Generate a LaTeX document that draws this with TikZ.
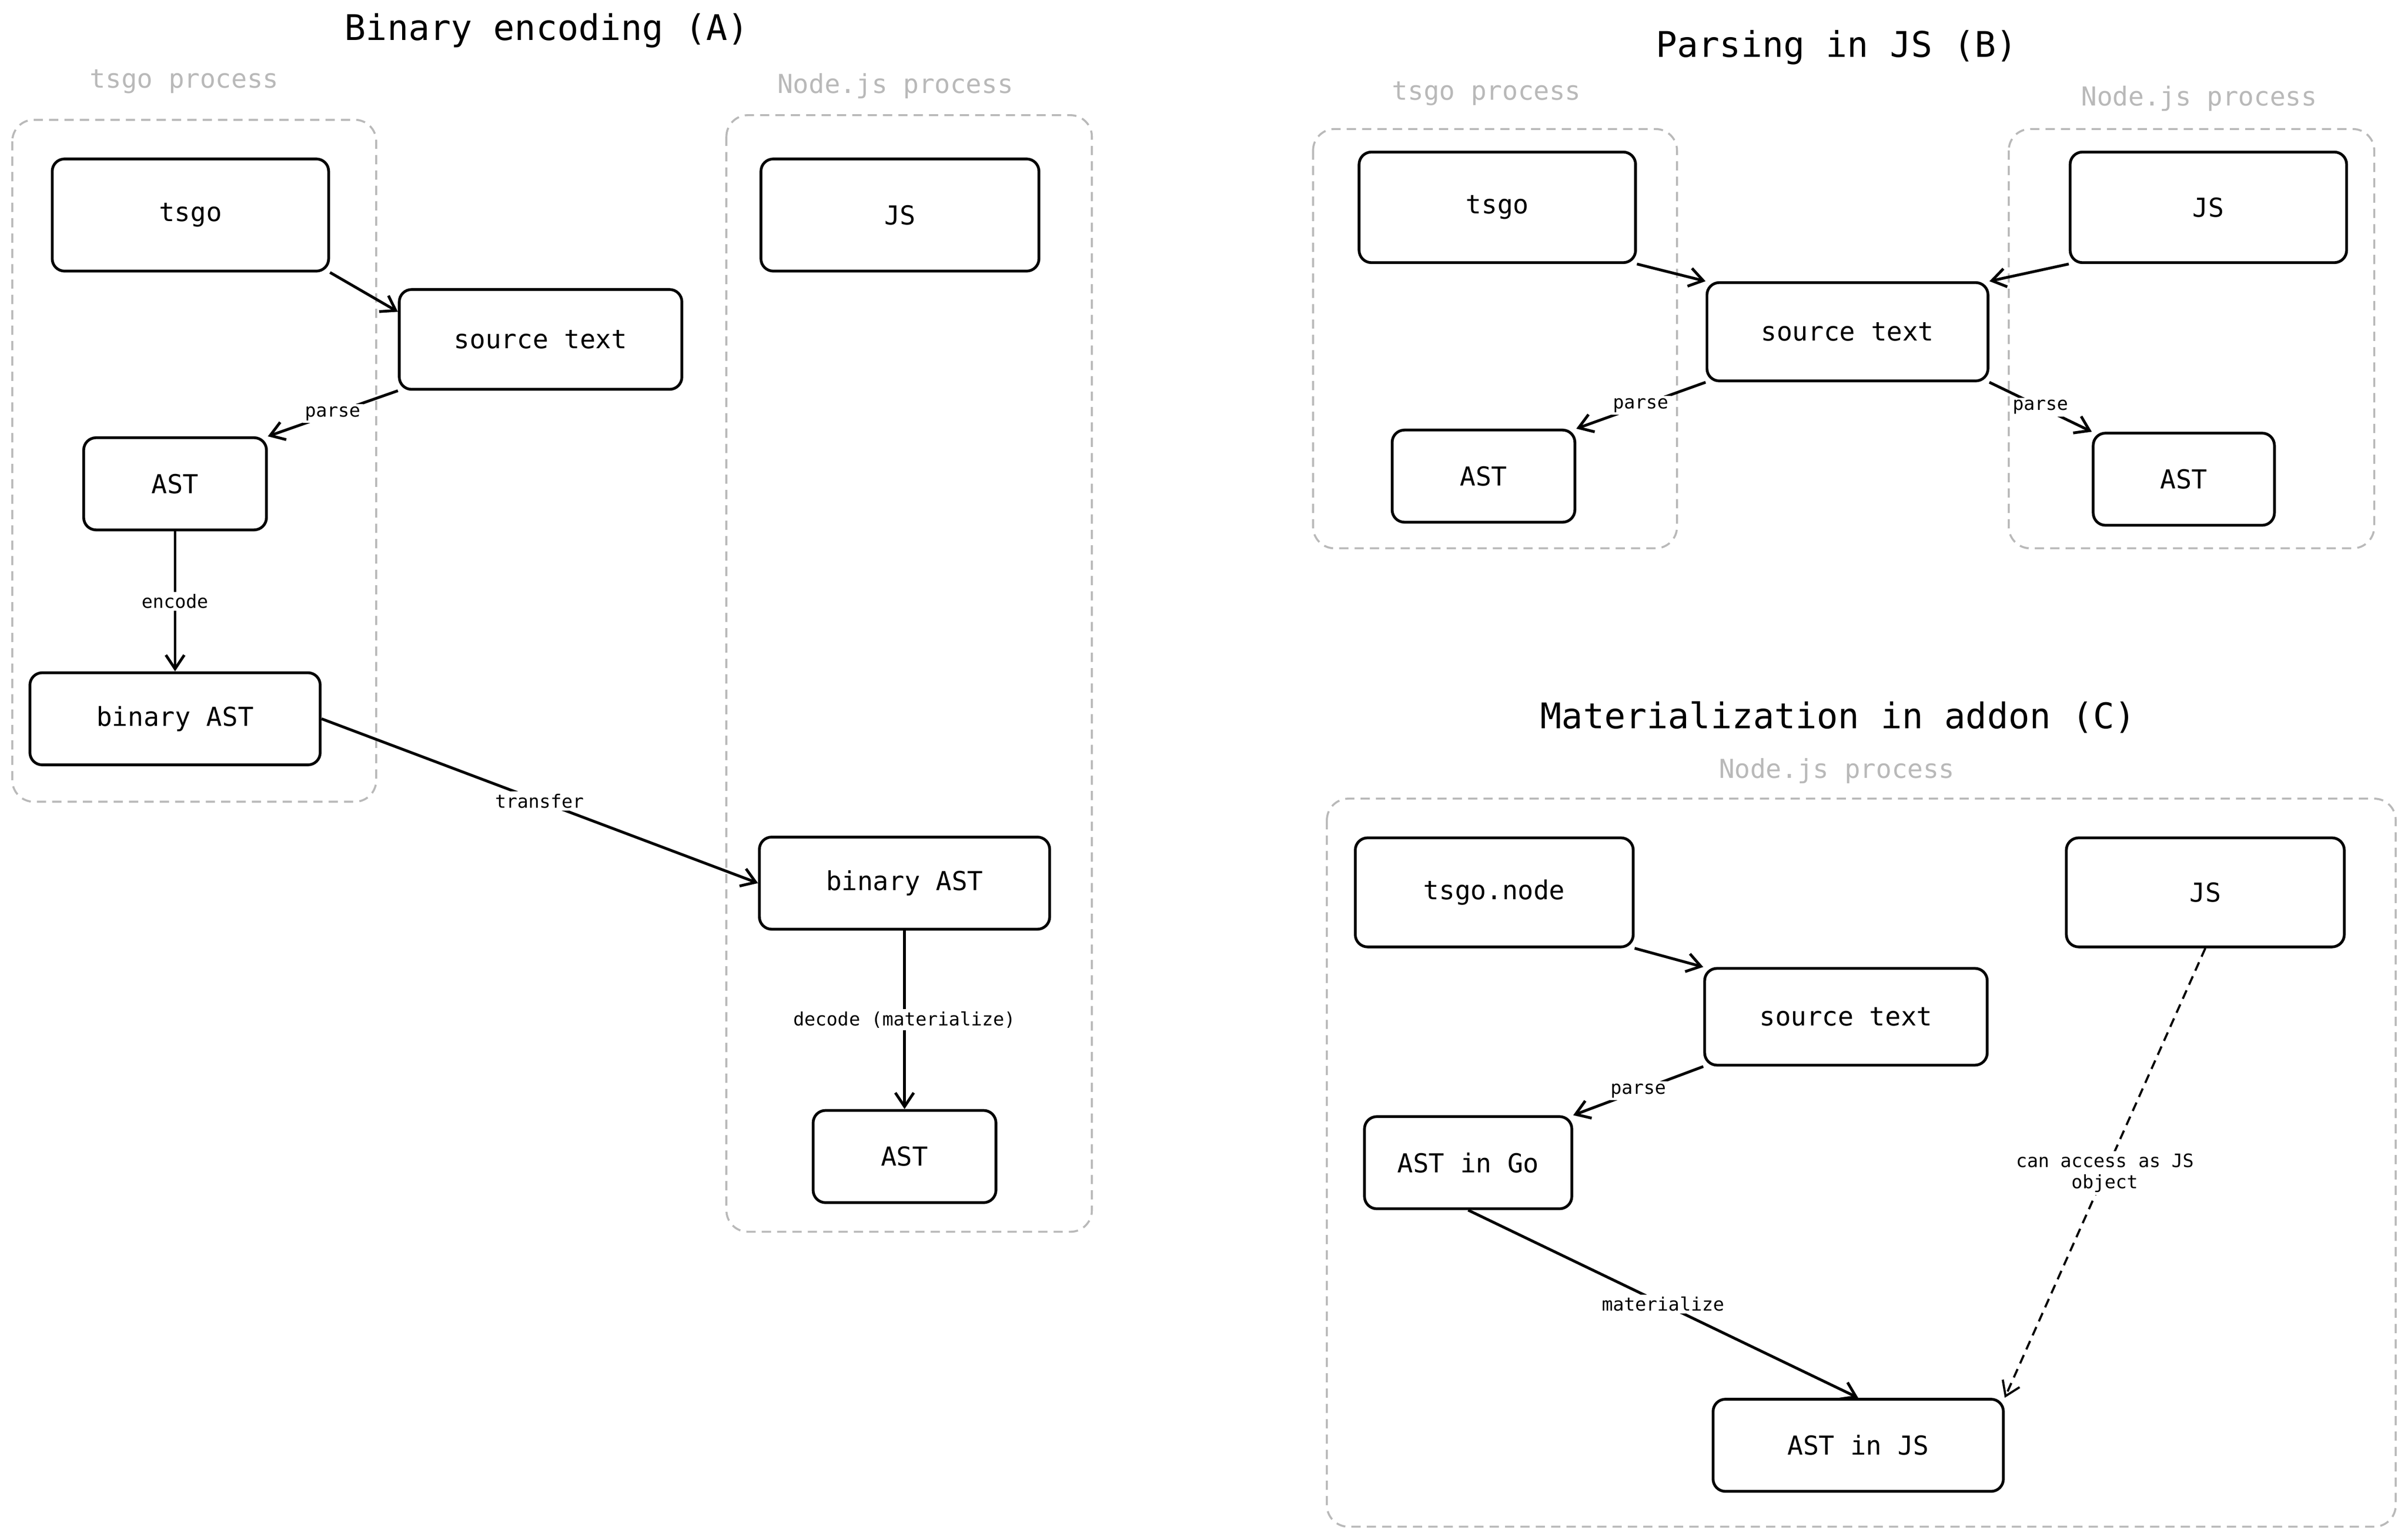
\documentclass[tikz,border=0pt]{standalone}
\usepackage{fontspec}
\setmonofont{DejaVu Sans Mono}
\usetikzlibrary{arrows.meta}

\begin{document}
\begin{tikzpicture}[
   x=1pt, y=-1pt,
   font=\ttfamily,
   -{Straight Barb[length=9pt,width=12pt]}, line width=1.8pt,
   box/.style = {draw, rounded corners=8pt, minimum height=60pt, font=\ttfamily\fontsize{17}{20}\selectfont},
   proc/.style = {draw=gray!55, dash pattern=on 6pt off 4pt, rounded corners=14pt, line width=1.3pt},
   proclbl/.style = {text=gray!55, font=\ttfamily\fontsize{17}{20}\selectfont},
   title/.style = {font=\ttfamily\fontsize{23}{26}\selectfont},
   lbl/.style = {fill=white, inner sep=1.5pt, font=\ttfamily\fontsize{12}{14}\selectfont}]
   \useasboundingbox (0,0) rectangle (1568,1000);

   % (A) binary encoding
   \node[title] (titleA) at (356,20) {Binary encoding (A)};
   \draw[proc, -] (8,78) rectangle (245,522);
   \draw[proc, -] (473,75) rectangle (711,802);
   \node[proclbl] (procA1) at (120,53) {tsgo process};
   \node[proclbl] (procA2) at (583,56) {Node.js process};
   \node[box, minimum width=180pt, minimum height=73pt] (tsgoA) at (124,140) {tsgo};
   \node[box, minimum width=184pt, minimum height=65pt] (srcA) at (352,221) {source text};
   \node[box, minimum width=119pt] (astA) at (114,315) {AST};
   \node[box, minimum width=189pt] (binA) at (114,468) {binary AST};
   \node[box, minimum width=181pt, minimum height=73pt] (jsA) at (586,140) {JS};
   \node[box, minimum width=189pt] (binA2) at (589,575) {binary AST};
   \node[box, minimum width=119pt] (astA2) at (589,753) {AST};

   \draw (tsgoA.south east) -- (srcA.west |- 0,203);
   \draw (srcA.south west) -- node[lbl]{parse} (astA.north east);
   \draw (astA) -- node[lbl]{encode} (binA);
   \draw (binA.east) -- node[lbl]{transfer} (binA2.west);
   \draw (binA2) -- node[lbl]{decode (materialize)} (astA2);

   % (B) parsing in JS
   \node[title] (titleB) at (1196,31) {Parsing in JS (B)};
   \draw[proc, -] (855,84) rectangle (1092,357);
   \draw[proc, -] (1308,84) rectangle (1546,357);
   \node[proclbl] (procB1) at (968,61) {tsgo process};
   \node[proclbl] (procB2) at (1432,64) {Node.js process};
   \node[box, minimum width=180pt, minimum height=72pt] (tsgoB) at (975,135) {tsgo};
   \node[box, minimum width=180pt, minimum height=72pt] (jsB) at (1438,135) {JS};
   \node[box, minimum width=183pt, minimum height=64pt] (srcB) at (1203,216) {source text};
   \node[box, minimum width=119pt] (astB) at (966,310) {AST};
   \node[box, minimum width=118pt] (astB2) at (1422,312) {AST};

   \draw (tsgoB.south east) -- (srcB.north west);
   \draw (jsB.south west) -- (srcB.north east);
   \draw (srcB.south west) -- node[lbl]{parse} (astB.north east);
   \draw (srcB.south east) -- node[lbl]{parse} (astB2.north west);

   % (C) materialization in addon
   \node[title] (titleC) at (1197,467) {Materialization in addon (C)};
   \draw[proc, -] (864,520) rectangle (1560,994);
   \node[proclbl] (procC) at (1196,502) {Node.js process};
   \node[box, minimum width=181pt, minimum height=71pt] (tsgoC) at (973,581) {tsgo.node};
   \node[box, minimum width=181pt, minimum height=71pt] (jsC) at (1436,581) {JS};
   \node[box, minimum width=184pt, minimum height=63pt] (srcC) at (1202,662) {source text};
   \node[box, minimum width=135pt] (goC) at (956,757) {AST in Go};
   \node[box, minimum width=189pt] (astjsC) at (1210,941) {AST in JS};

   \draw (tsgoC.south east) -- (srcC.north west);
   \draw (srcC.south west) -- node[lbl]{parse} (goC.north east);
   \draw (goC.south) -- node[lbl]{materialize} (astjsC.north);
   \draw[dash pattern=on 6pt off 4pt, line width=1.4pt] (jsC.south) -- node[lbl, align=center, pos=0.5]{can access as JS\\object} (astjsC.north east);
\end{tikzpicture}
\end{document}
